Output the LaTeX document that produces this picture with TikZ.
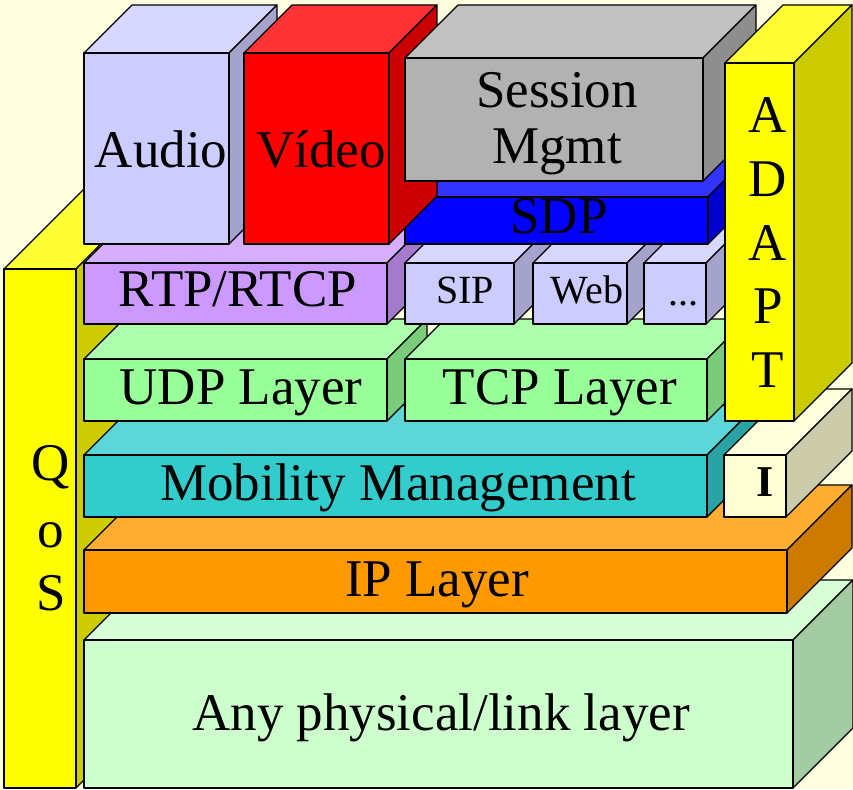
\documentclass[tikz,border=0pt]{standalone}
\usepackage{fontspec}
\setmainfont{Liberation Serif}
\definecolor{bg}{HTML}{FFFFE0}
\definecolor{cAudio}{HTML}{CCCCFF}
\definecolor{cVideo}{HTML}{FF0000}
\definecolor{cSess}{HTML}{B2B2B2}
\definecolor{cSDP}{HTML}{0000FF}
\definecolor{cApp}{HTML}{CCCCFF}
\definecolor{cRTP}{HTML}{CC99FF}
\definecolor{cTrans}{HTML}{99FF99}
\definecolor{cMob}{HTML}{33CCCC}
\definecolor{cI}{HTML}{FFFFD5}
\definecolor{cIP}{HTML}{FF9900}
\definecolor{cPhy}{HTML}{CCFFCC}
\definecolor{cYel}{HTML}{FFFF00}
\tikzset{
  lbl/.style={anchor=base, inner sep=0pt, font=\fontsize{53}{60}\selectfont},
  smalllbl/.style={anchor=base, inner sep=0pt, font=\fontsize{40}{48}\selectfont},
  boldlbl/.style={anchor=base, inner sep=0pt, font=\fontsize{44}{50}\selectfont\bfseries},
  edge/.style={draw=black, line width=1.1pt, line join=round},
}
% x1 y1 x2 y2 depth colour
\newcommand{\cuboid}[6]{%
  \filldraw[edge, fill=#6!80!white] (#1,#2) -- (#3,#2) -- ({#3+#5},{#2-#5}) -- ({#1+#5},{#2-#5}) -- cycle;
  \filldraw[edge, fill=#6!80!black] (#3,#2) -- (#3,#4) -- ({#3+#5},{#4-#5}) -- ({#3+#5},{#2-#5}) -- cycle;
  \filldraw[edge, fill=#6] (#1,#2) rectangle (#3,#4);
}
\begin{document}
\begin{tikzpicture}[x=1pt,y=-1pt]
\fill[bg] (0,0) rectangle (853,789);
\useasboundingbox (0,0) rectangle (853,789);
\clip (0,0) rectangle (853,789);
% QoS column
\cuboid{4}{269}{76}{788}{80}{cYel}
% layers bottom to top
\cuboid{84}{640}{793}{788}{60}{cPhy}
\cuboid{84}{550}{787}{613}{65}{cIP}
\cuboid{84}{455}{707}{517}{50}{cMob}
\cuboid{724}{455}{786}{517}{66}{cI}
\cuboid{84}{359}{387}{421}{40}{cTrans}
\cuboid{405}{359}{707}{421}{40}{cTrans}
\cuboid{84}{263}{387}{324}{40}{cRTP}
\cuboid{405}{263}{514}{324}{40}{cApp}
\cuboid{533}{263}{627}{324}{40}{cApp}
\cuboid{644}{263}{706}{324}{40}{cApp}
\cuboid{405}{197}{708}{244}{50}{cSDP}
\cuboid{84}{53}{229}{244}{48}{cAudio}
\cuboid{244}{53}{389}{244}{48}{cVideo}
\cuboid{405}{58}{703}{181}{53}{cSess}
\cuboid{725}{63}{794}{421}{58}{cYel}
% labels
\node[lbl] (audio) at (161,167) {Audio};
\node[lbl] (video) at (321,167) {Vídeo};
\node[lbl] (sess1) at (557,107) {Session};
\node[lbl] (sess2) at (557,163) {Mgmt};
\node[lbl] (sdp) at (559,233) {SDP};
\node[lbl] (rtp) at (238,306) {RTP/RTCP};
\node[smalllbl] (sip) at (465,303) {SIP};
\node[smalllbl] (web) at (587,303) {Web};
\node[smalllbl] (dots) at (683,305) {...};
\node[lbl] (udp) at (241,404) {UDP Layer};
\node[lbl] (tcp) at (560,404) {TCP Layer};
\node[lbl] (mob) at (398,500) {Mobility Management};
\node[boldlbl] (ilbl) at (765,496) {I};
\node[lbl] (ip) at (437,596) {IP Layer};
\node[lbl] (phy) at (441,730) {Any physical/link layer};
\node[lbl] (q1) at (51,480) {Q};
\node[lbl] (q2) at (51,547) {o};
\node[lbl] (q3) at (51,610) {S};
\node[lbl] (a1) at (768,132) {A};
\node[lbl] (a2) at (768,196) {D};
\node[lbl] (a3) at (768,260) {A};
\node[lbl] (a4) at (768,323) {P};
\node[lbl] (a5) at (768,387) {T};
\end{tikzpicture}
\end{document}
